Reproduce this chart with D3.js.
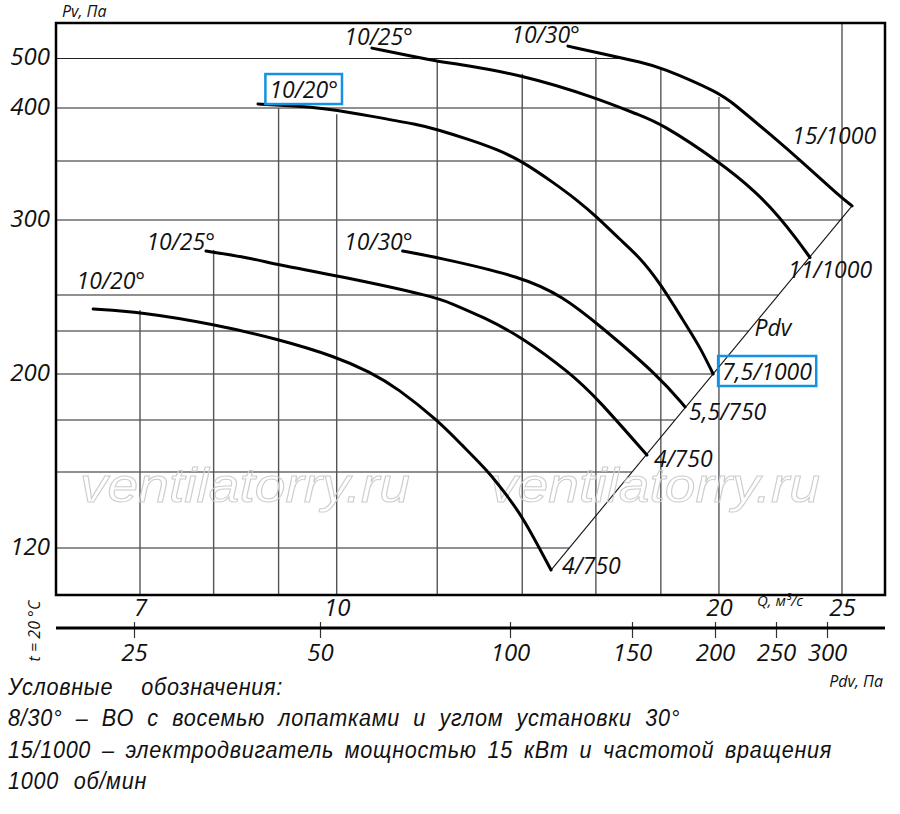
<!DOCTYPE html>
<html>
<head>
<meta charset="utf-8">
<script src="https://cdn.jsdelivr.net/npm/d3@7"></script>
<style>
    body { margin: 0; background: #fff; }
    text { font-family: "Open Sans", "DejaVu Sans", sans-serif; font-style: italic; fill: #111; }
</style>
</head>
<body>
<div id="wrapper"></div>
<script>
// Pv grid (Па) and Q grid (м³/с)
const pvGrid = [120, 150, 170, 200, 230, 250, 300, 350, 400, 500];
const pvGridEnd = [null, null, null, null, null, null, 25, 23.2, 20.4, 16.7]; // null -> ends on Pdv line
const pvTicks = [120, 200, 300, 400, 500];
const qGrid = [7, 8, 9, 10, 12, 14, 16, 18, 20, 25];
const qGridTop = [241.7, 280, 400, 394, 493, 469, 503, 483, 422, null]; // null -> full height
const qTicks = [7, 10, 20, 25];
const pdvTicks = [25, 50, 100, 150, 200, 250, 300];

// characteristic curves
const startLabels = ["10/20°", "10/25°", "10/30°", "10/20°", "10/25°", "10/30°"];
const endLabels = ["7,5/1000", "11/1000", "15/1000", "4/750", "4/750", "5,5/750"];
const curveQ = [
    [8.67, 8.99, 9.56, 10.0, 10.56, 11.63, 11.97, 12.74, 13.37, 13.99, 14.80, 15.46, 16.03, 16.71, 17.33, 17.97, 18.74, 19.32, 19.79],
    [10.66, 11.97, 12.28, 14.02, 16.03, 17.33, 17.97, 20.04, 21.43, 22.34, 23.04, 23.59],
    [15.21, 16.62, 17.33, 17.97, 20.04, 20.51, 22.06, 23.16, 24.90, 25.46],
    [6.43, 7.0, 7.99, 8.99, 10.0, 10.62, 11.16, 12.0, 12.57, 13.13, 13.57, 14.02, 14.75],
    [7.89, 8.55, 8.99, 10.0, 11.97, 12.28, 13.04, 13.99, 15.27, 16.03, 17.55],
    [11.27, 11.97, 14.02, 15.08, 16.03, 17.97, 18.81]
];
const curvePv = [
    [408, 406, 402, 398, 393, 384, 380, 370, 361, 350, 332, 317, 302.5, 287, 275, 258, 236, 219, 200],
    [521, 495, 491, 467, 420, 393, 386, 349, 323, 302, 287, 275],
    [525, 503, 493, 483, 430, 410, 373, 351, 320, 312],
    [242.2, 240.6, 233.9, 224.4, 211.9, 201.4, 190.9, 170, 160, 150.8, 141.7, 132.2, 111.3],
    [279.3, 274.7, 270, 263, 248.9, 245.6, 237.8, 225.8, 200.7, 184.3, 156.5],
    [279.3, 275.3, 262, 248.9, 234.4, 198, 178.5]
];
// Pdv line (end points)
const pdvLineQ = [14.75, 25.46];
const pdvLinePv = [111.3, 312];

const legendLines = [
    "Условные обозначения:",
    "8/30° – ВО с восемью лопатками и углом установки 30°",
    "15/1000 – электродвигатель мощностью 15 кВт и частотой вращения",
    "1000 об/мин"
];

// label placement relative to curve start / end
const startOffset = [[80, -6], [41, -3], [12, -3], [52, -20], [9, -1], [10, -1]];
const endOffset = [[9, 6], [-22, 20], [-60, -62], [11, 4], [7, 12], [4, 13]];
const boxedStart = [0];
const boxedEnd = [0];

const dimension = {
    width: 900,
    height: 814,
    margin: { top: 23, left: 56, right: 15, bottom: 219 }
};
dimension.boundedWidth = dimension.width - dimension.margin.left - dimension.margin.right;
dimension.boundedHeight = dimension.height - dimension.margin.top - dimension.margin.bottom;

const svg = d3.select("#wrapper").append("svg")
    .attr("width", dimension.width)
    .attr("height", dimension.height);
const bounded = svg.append("g")
    .attr("transform", `translate(${dimension.margin.left}, ${dimension.margin.top})`);

const xScaler = d3.scaleLog().domain([7, 25]).range([84, 786]);
// hand drawn, uneven pressure scale
const yScaler = d3.scaleLinear().domain(pvGrid)
    .range([525, 449, 397, 351, 308, 272, 197, 138, 85, 35.5]);
const pdvScaler = d3.scaleLinear().domain(pdvTicks)
    .range([78, 264, 454, 576, 659, 720, 771]);

const d0 = [xScaler(pdvLineQ[0]), yScaler(pdvLinePv[0])];
const d1 = [xScaler(pdvLineQ[1]), yScaler(pdvLinePv[1])];
const diagX = (py) => d0[0] + (py - d0[1]) * (d1[0] - d0[0]) / (d1[1] - d0[1]);

// grid
bounded.append("g").selectAll("line").data(pvGrid).join("line")
    .attr("x1", 0)
    .attr("x2", (d, i) => pvGridEnd[i] ? xScaler(pvGridEnd[i]) : diagX(yScaler(d)))
    .attr("y1", d => yScaler(d))
    .attr("y2", d => yScaler(d))
    .attr("stroke", "#222")
    .attr("stroke-width", 1.1);

bounded.append("g").selectAll("line").data(qGrid).join("line")
    .attr("x1", d => xScaler(d))
    .attr("x2", d => xScaler(d))
    .attr("y1", (d, i) => qGridTop[i] ? yScaler(qGridTop[i]) : 0)
    .attr("y2", dimension.boundedHeight)
    .attr("stroke", "#555")
    .attr("stroke-width", 1.4);

// Pdv line
bounded.append("path")
    .attr("d", d3.line()([d0, d1]))
    .attr("stroke", "#111")
    .attr("stroke-width", 1.1)
    .attr("fill", "none");

// watermark
bounded.append("g").selectAll("text").data([24, 434]).join("text")
    .attr("x", d => d)
    .attr("y", 479)
    .attr("textLength", 330)
    .attr("lengthAdjust", "spacingAndGlyphs")
    .style("font-family", "'Liberation Sans', Arial, sans-serif")
    .style("font-size", "48px")
    .style("fill", "none")
    .attr("stroke", "#cdcdcd")
    .attr("stroke-width", 1)
    .text("ventilatorry.ru");

// curves
const lineGenerator = d3.line()
    .x(d => xScaler(d[0]))
    .y(d => yScaler(d[1]))
    .curve(d3.curveBasis);

curveQ.forEach((qs, i) => {
    const pts = qs.map((q, j) => [q, curvePv[i][j]]);
    bounded.append("path")
        .attr("d", lineGenerator(pts))
        .attr("fill", "none")
        .attr("stroke", "#000")
        .attr("stroke-width", 3)
        .attr("stroke-linecap", "round");

    const s = pts[0], e = pts[pts.length - 1];
    const st = bounded.append("text")
        .attr("x", xScaler(s[0]) + startOffset[i][0])
        .attr("y", yScaler(s[1]) + startOffset[i][1])
        .attr("text-anchor", "end")
        .style("font-size", "23px")
        .text(startLabels[i]);
    const et = bounded.append("text")
        .attr("x", xScaler(e[0]) + endOffset[i][0])
        .attr("y", yScaler(e[1]) + endOffset[i][1])
        .style("font-size", "23px")
        .text(endLabels[i]);
    if (boxedStart.includes(i)) drawBox(st);
    if (boxedEnd.includes(i)) drawBox(et);
});

function drawBox(t) {
    const b = t.node().getBBox();
    bounded.append("rect")
        .attr("x", b.x - 4)
        .attr("y", b.y + 1)
        .attr("width", b.width + 8)
        .attr("height", b.height - 2)
        .attr("fill", "none")
        .attr("stroke", "#1591e3")
        .attr("stroke-width", 2.5);
}

// Pdv label on the line
bounded.append("text")
    .attr("x", diagX(313) + 10)
    .attr("y", 313)
    .style("font-size", "23px")
    .text("Pdv");

// frame
bounded.append("rect")
    .attr("width", dimension.boundedWidth)
    .attr("height", dimension.boundedHeight)
    .attr("fill", "none")
    .attr("stroke", "#000")
    .attr("stroke-width", 2.5);

// axes
const yAxis = d3.axisLeft(yScaler).tickValues(pvTicks).tickSize(0).tickPadding(6);
const yG = bounded.append("g").call(yAxis);
yG.select(".domain").remove();
yG.selectAll("text").style("font-size", "24px").style("font-family", "'Open Sans', sans-serif").attr("dy", "0.25em");

const xAxis = d3.axisBottom(xScaler).tickValues(qTicks).tickFormat(d3.format("d")).tickSize(0).tickPadding(4);
const xG = bounded.append("g")
    .attr("transform", `translate(0, ${dimension.boundedHeight})`)
    .call(xAxis);
xG.select(".domain").remove();
xG.selectAll("text").style("font-size", "24px").style("font-family", "'Open Sans', sans-serif");

const pdvAxis = d3.axisBottom(pdvScaler).tickValues(pdvTicks).tickFormat(d3.format("d")).tickSize(10).tickPadding(6);
const pG = bounded.append("g")
    .attr("transform", `translate(0, ${dimension.boundedHeight + 33})`)
    .call(pdvAxis);
pG.select(".domain").remove();
pG.selectAll(".tick line").attr("y1", -6).attr("stroke", "#333").attr("stroke-width", 1.2);
pG.selectAll("text").style("font-size", "24px").style("font-family", "'Open Sans', sans-serif");
pG.append("line")
    .attr("x1", 0).attr("x2", dimension.boundedWidth)
    .attr("stroke", "#000").attr("stroke-width", 3);

// axis titles
svg.append("text").attr("x", 62).attr("y", 17).style("font-size", "16px").text("Pv, Па");
svg.append("text").attr("x", 757).attr("y", 606).style("font-size", "15px").text("Q, м³/с");
svg.append("text").attr("x", 883).attr("y", 687).attr("text-anchor", "end")
    .style("font-size", "16px").text("Pdv, Па");
svg.append("text")
    .attr("transform", "translate(40, 631) rotate(-90)")
    .attr("text-anchor", "middle")
    .style("font-size", "16px")
    .text("t = 20 °C");

// legend, condensed italic with wide word gaps
const legendWidth = [275, 672, 824, 139];
const squeeze = 0.9;
svg.append("g")
    .attr("transform", `scale(${squeeze}, 1)`)
    .selectAll("text").data(legendLines).join("text")
    .attr("x", 8 / squeeze)
    .attr("y", (d, i) => 695 + i * 31.3)
    .style("font-family", "'Liberation Sans', Arial, sans-serif")
    .style("font-size", "24px")
    .style("letter-spacing", "0.8px")
    .text(d => d)
    .each(function (d, i) {
        const natural = this.getComputedTextLength();
        const gaps = (d.match(/ /g) || []).length;
        const extra = (legendWidth[i] / squeeze - natural) / gaps;
        d3.select(this).style("word-spacing", `${Math.max(-3, extra)}px`);
    });
</script>
</body>
</html>
